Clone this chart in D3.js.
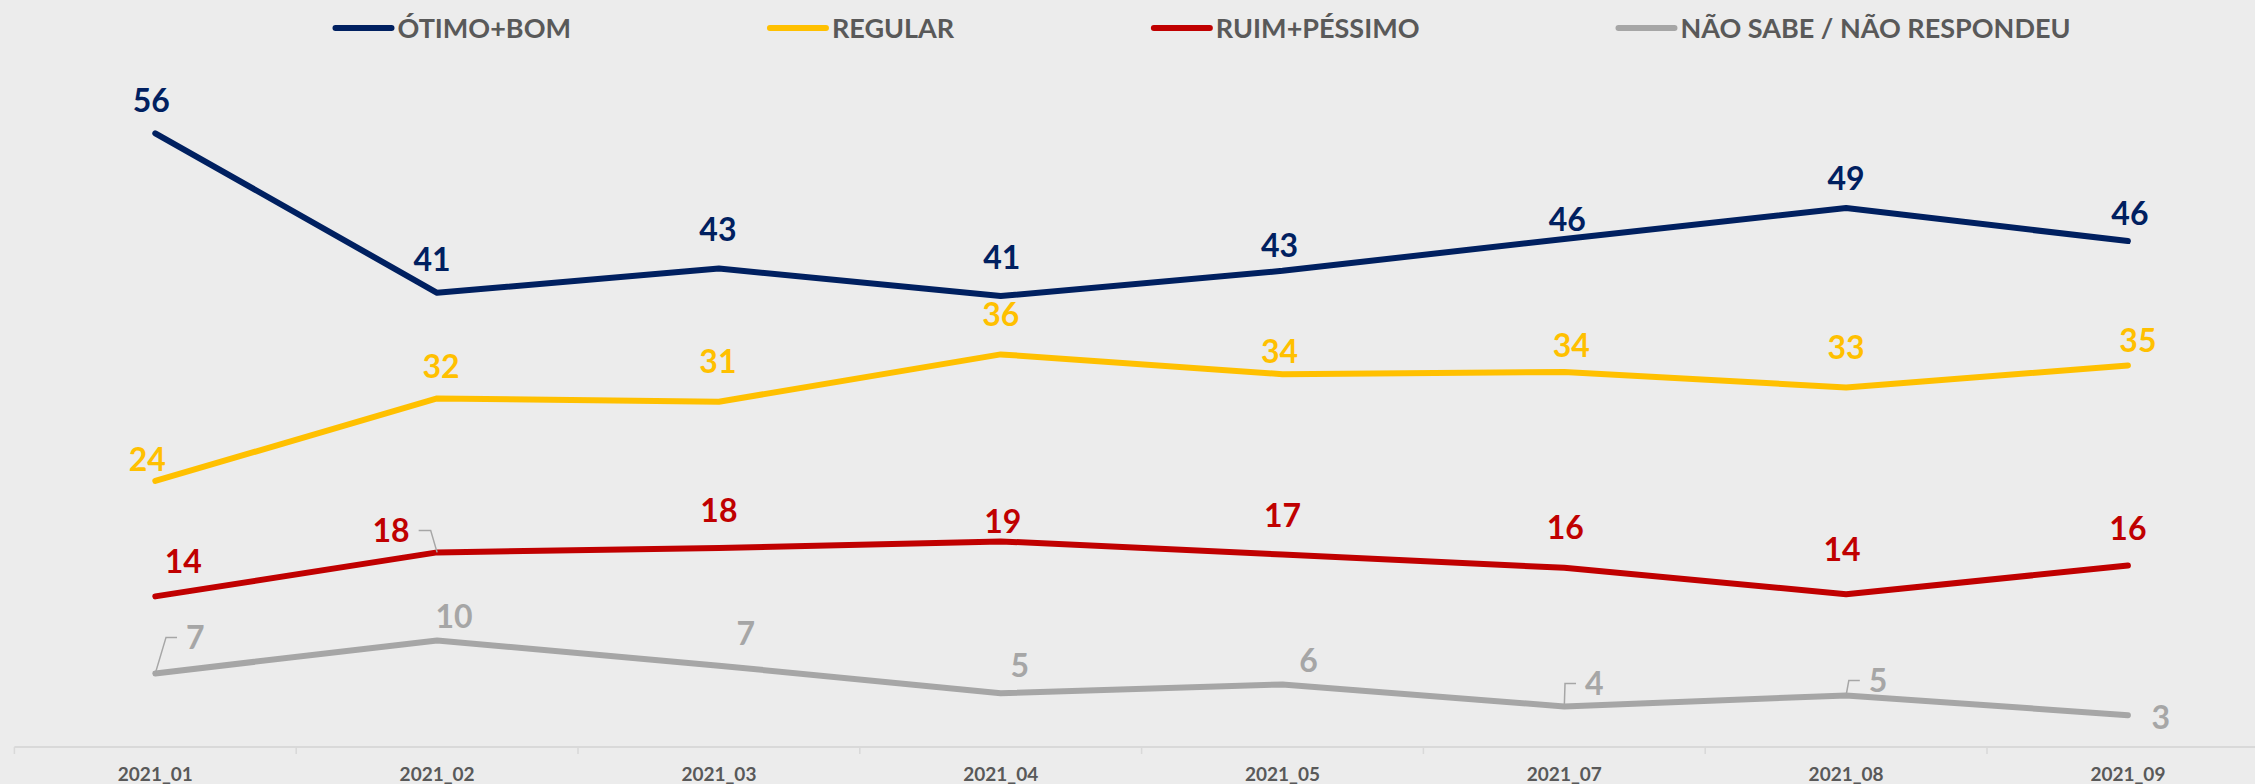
<!DOCTYPE html>
<html>
<head>
<meta charset="utf-8">
<script src="https://cdn.jsdelivr.net/npm/d3@7"></script>
<style>
  body { margin: 0; background: #ececec; }
  text { font-family: Lato, "Open Sans", sans-serif; font-weight: bold; }
</style>
</head>
<body>
<script>
// data
var categories = ["2021_01", "2021_02", "2021_03", "2021_04", "2021_05", "2021_07", "2021_08", "2021_09"];
var seriesNames = ["ÓTIMO+BOM", "REGULAR", "RUIM+PÉSSIMO", "NÃO SABE / NÃO RESPONDEU"];
var otimoBom    = [55.7, 41.2, 43.4, 40.9, 43.2, 46.1, 48.9, 45.9];
var regular     = [24.1, 31.6, 31.3, 35.6, 33.8, 34.0, 32.6, 34.6];
var ruimPessimo = [13.6, 17.6, 18.0, 18.6, 17.4, 16.2, 13.8, 16.4];
var naoSabe     = [6.6, 9.6, 7.3, 4.8, 5.6, 3.6, 4.6, 2.8];

var colors = ["#002060", "#FFC000", "#C00000", "#A6A6A6"];

// label placement (px from the point), like hand-moved labels in the original
var labelShift = [
  [[-4,-33],[-5,-33],[-1,-39],[1,-39],[-3,-25],[3,-19],[0,-30],[2,-28]],
  [[-8,-21],[4,-32],[-1,-40],[0,-40],[-3,-23],[7,-27],[0,-40],[10,-25]],
  [[28,-35],[-46,-22],[0,-38],[2,-20],[0,-39],[1,-40],[-4,-45],[0,-37]],
  [[40,-36],[17,-24],[27,-32],[19,-28],[26,-24],[30,-23],[32,-15],[33,2]]
];
var leaderLines = [[], [], [1], [0, 5, 6]];

var W = 2255, H = 784;
var svg = d3.select("body").append("svg")
    .attr("width", W)
    .attr("height", H);

svg.append("rect").attr("width", W).attr("height", H).attr("fill", "#ececec");

var x = d3.scaleBand()
    .domain(categories)
    .range([14.4, 14.4 + 8 * 281.8]);

var y = d3.scaleLinear()
    .domain([0, 60])
    .range([746, 86]);

var cx = function(c){ return x(c) + x.bandwidth() / 2; };

// x axis
var axisY = y(0) + 1;
svg.append("line")
    .attr("x1", x.range()[0]).attr("x2", W)
    .attr("y1", axisY).attr("y2", axisY)
    .attr("stroke", "#d9d9d9").attr("stroke-width", 2);

svg.selectAll(".tickmark")
    .data(categories)
    .enter().append("line")
    .attr("class", "tickmark")
    .attr("x1", function(d){ return x(d); })
    .attr("x2", function(d){ return x(d); })
    .attr("y1", axisY).attr("y2", axisY + 7)
    .attr("stroke", "#d9d9d9").attr("stroke-width", 1.5);

var gx = svg.append("g")
    .attr("transform", "translate(0," + axisY + ")")
    .call(d3.axisBottom(x).tickSize(0));
gx.select(".domain").remove();
gx.selectAll("text")
    .attr("y", 27)
    .attr("dy", "0.36em")
    .attr("fill", "#595959")
    .style("font-size", "19px")
    .style("font-family", "Lato, sans-serif")
    .style("font-weight", "bold");

// lines
var allSeries = [otimoBom, regular, ruimPessimo, naoSabe];
var line = d3.line()
    .x(function(d, i){ return cx(categories[i]); })
    .y(function(d){ return y(d); });

// draw bottom series first so navy is on top
for (var s = allSeries.length - 1; s >= 0; s--) {
  svg.append("path")
      .attr("d", line(allSeries[s]))
      .attr("fill", "none")
      .attr("stroke", colors[s])
      .attr("stroke-width", 6)
      .attr("stroke-linecap", "round")
      .attr("stroke-linejoin", "round");
}

// data labels
allSeries.forEach(function(vals, s){
  var g = svg.append("g");
  vals.forEach(function(v, i){
    var px = cx(categories[i]), py = y(v);
    var lx = px + labelShift[s][i][0], ly = py + labelShift[s][i][1];
    var t = g.append("text")
        .attr("x", lx).attr("y", ly)
        .attr("dy", "0.36em")
        .attr("text-anchor", "middle")
        .attr("fill", colors[s])
        .style("font-size", "32px")
        .text(d3.format(".0f")(v));
    if (leaderLines[s].indexOf(i) >= 0) {
      var w = t.node().getComputedTextLength();
      var sx, ex;
      if (lx > px) { sx = lx - w / 2 - 9; ex = sx - 11; }
      else { sx = lx + w / 2 + 9; ex = sx + 12; }
      g.append("polyline")
          .attr("points", [[sx, ly], [ex, ly], [px, py]].join(" "))
          .attr("fill", "none")
          .attr("stroke", "#a6a6a6")
          .attr("stroke-width", 1.5);
    }
  });
});

// legend
var legend = svg.append("g").attr("transform", "translate(0,28)");
var items = legend.selectAll("g")
    .data(seriesNames)
    .enter().append("g");
items.append("line")
    .attr("x1", 0).attr("x2", 56)
    .attr("stroke", function(d, i){ return colors[i]; })
    .attr("stroke-width", 6)
    .attr("stroke-linecap", "round");
items.append("text")
    .attr("x", 62)
    .attr("dy", "0.36em")
    .attr("fill", "#595959")
    .style("font-size", "27px")
    .text(function(d){ return d; });

var widths = [];
items.each(function(){ widths.push(this.getBBox().width); });
var gap = 199;
var total = d3.sum(widths) + gap * (widths.length - 1);
var pos = 1203 - total / 2;
items.attr("transform", function(d, i){
  var p = pos;
  pos += widths[i] + gap;
  return "translate(" + p + ",0)";
});
</script>
</body>
</html>
